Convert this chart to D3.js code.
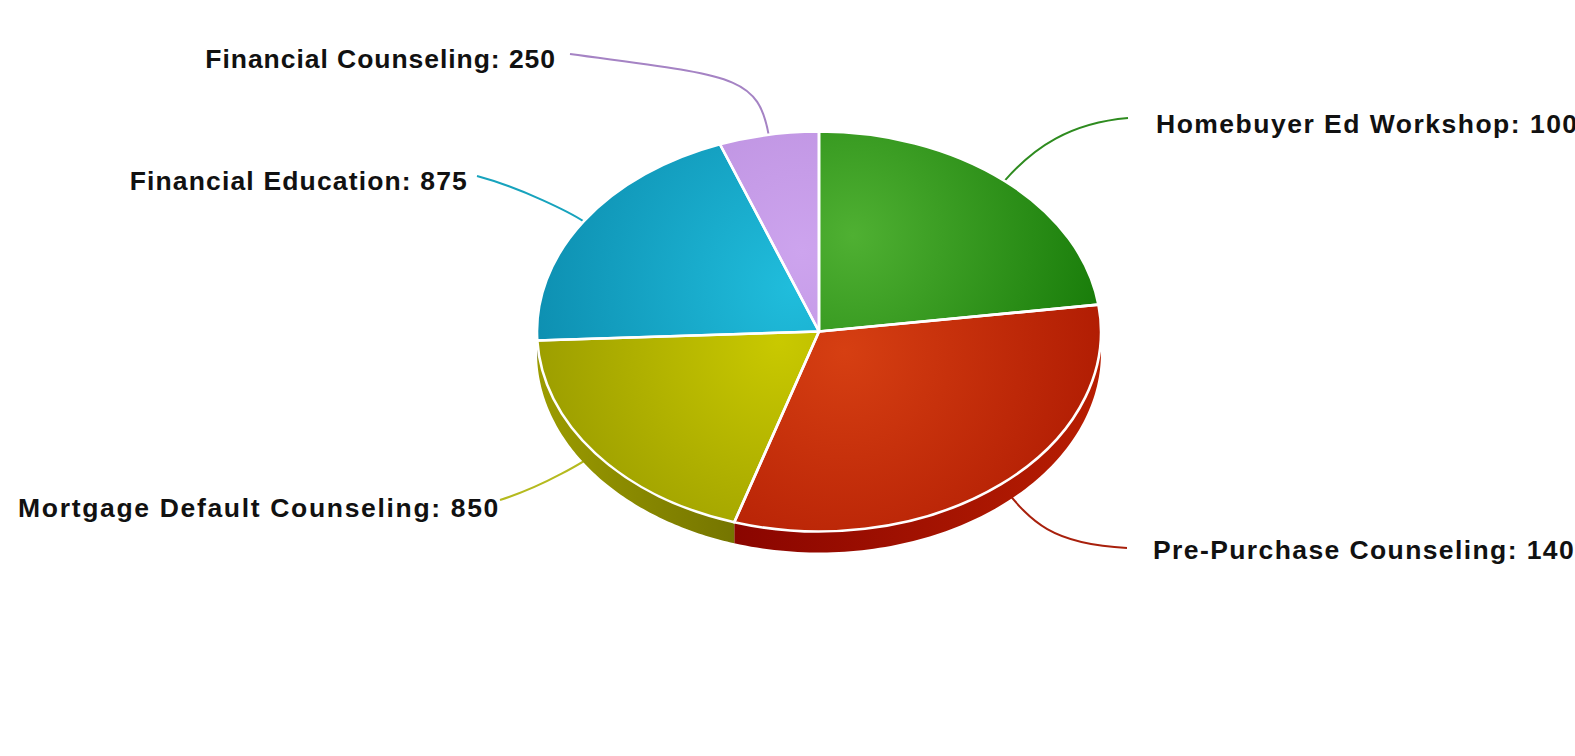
<!DOCTYPE html>
<html>
<head>
<meta charset="utf-8">
<script src="https://cdn.jsdelivr.net/npm/d3@7"></script>
<style>
  html, body { margin: 0; padding: 0; background: #fff; overflow: hidden; }
  svg { display: block; }
  text { font-family: "Liberation Sans", Arial, sans-serif; font-weight: 700; fill: #111; }
</style>
</head>
<body>
<svg id="chart" width="1575" height="756"></svg>
<script>
// Counseling activity by service type
const categories = ["Homebuyer Ed Workshop", "Pre-Purchase Counseling", "Mortgage Default Counseling", "Financial Education", "Financial Counseling"];
const values = [1000, 1400, 850, 875, 250];

// Per-slice palette: gradient highlight, gradient shadow, wall shades left to right along the rim
const lightColors = ["#4fb032", "#d63f12", "#c9c900", "#20bddc", "#cda4ee"];
const darkColors = ["#167a08", "#ae1a02", "#939500", "#0c8cae", "#b88cdc"];
const wallStart = [null, "#b81e02", "#757500", null, null];
const wallEnd = [null, "#8a0500", "#9c9c00", null, null];
// Gradient focus of each slice, as fractions of the pie radii from its centre
const glowFx = [0.12, 0.09, -0.14, -0.09, -0.06];
const glowFy = [-0.48, 0.10, 0.05, -0.22, -0.40];
const glowR = [0.95, 1.0, 1.05, 1.0, 0.85];

// Label placement: text anchor, leader end and how the leader bends
const labelX = [1156, 1153, 500, 468, 556];
const labelY = [133, 559, 517, 190, 68];
const labelAnchor = ["start", "start", "end", "end", "end"];
const labelSpacing = [1.49, 1.40, 1.67, 1.15, 0.95];
const leaderEndX = [1128, 1127, 500, 477, 570];
const leaderEndY = [118, 548, 500, 176, 54];
const leaderOut = [45, 45, 10, 15, 62];
const leaderIn = [58, 80, 45, 45, 160];
const leaderLift = [5, -4, -14, 12, 22];
const leaderColors = ["#2e8b1f", "#a8200c", "#b5ba1e", "#17a3bd", "#a583c4"];

const width = 1575, height = 756;
const cx = 819, cy = 331.5, rx = 282, ry = 200, depth = 21;

const svg = d3.select("#chart");
const defs = svg.append("defs");

const pie = d3.pie().sort(null).value(d => d)(values);
const arc = d3.arc().innerRadius(0).outerRadius(rx);

// Pie angles run clockwise from twelve o'clock and are squashed onto the ellipse
const rimX = a => cx + rx * Math.sin(a);
const rimY = a => cy - ry * Math.cos(a);

pie.forEach((p, i) => {
  const g = defs.append("radialGradient")
    .attr("id", "face" + i)
    .attr("gradientUnits", "userSpaceOnUse")
    .attr("cx", cx + glowFx[i] * rx)
    .attr("cy", cy + glowFy[i] * ry)
    .attr("r", glowR[i] * rx);
  g.append("stop").attr("offset", 0).attr("stop-color", lightColors[i]);
  g.append("stop").attr("offset", 1).attr("stop-color", darkColors[i]);
});

// Leaders run underneath the pie and come out of each slice's rim midpoint
const leaders = svg.append("g").attr("fill", "none").attr("stroke-width", 2);
pie.forEach((p, i) => {
  const mid = (p.startAngle + p.endAngle) / 2;
  const sx = rimX(mid), sy = rimY(mid);
  const ex = leaderEndX[i], ey = leaderEndY[i];
  const dir = ex > cx ? 1 : -1;
  const path = d3.path();
  path.moveTo(sx, sy);
  path.bezierCurveTo(
    sx + leaderOut[i] * Math.sin(mid), sy - leaderOut[i] * Math.cos(mid),
    ex - dir * leaderIn[i], ey + leaderLift[i],
    ex, ey);
  leaders.append("path").attr("d", path.toString()).attr("stroke", leaderColors[i]);
});

// Wall of the disc: only the part of each slice on the front half shows
const wall = svg.append("g");
const wallSamples = 90;
pie.forEach((p, i) => {
  const a0 = Math.max(p.startAngle, Math.PI / 2);
  const a1 = Math.min(p.endAngle, Math.PI * 1.5);
  if (a1 <= a0) return;
  const angles = d3.range(wallSamples + 1).map(k => a0 + (a1 - a0) * k / wallSamples);
  const outline = angles.map(a => [rimX(a), rimY(a)])
    .concat(angles.slice().reverse().map(a => [rimX(a), rimY(a) + depth]));
  const grad = defs.append("linearGradient")
    .attr("id", "wall" + i)
    .attr("gradientUnits", "userSpaceOnUse")
    .attr("x1", rimX(a0)).attr("x2", rimX(a1))
    .attr("y1", 0).attr("y2", 0);
  grad.append("stop").attr("offset", 0).attr("stop-color", wallStart[i]);
  grad.append("stop").attr("offset", 1).attr("stop-color", wallEnd[i]);
  wall.append("path")
    .attr("d", d3.line()(outline) + "Z")
    .attr("fill", `url(#wall${i})`);
});

// Top face: circular arcs flattened into the ellipse, gradients held in page space
const face = svg.append("g");
pie.forEach((p, i) => {
  const clipId = "slice" + i;
  defs.append("clipPath").attr("id", clipId).append("path")
    .attr("transform", `translate(${cx},${cy}) scale(1,${ry / rx})`)
    .attr("d", arc(p));
  face.append("rect")
    .attr("x", cx - rx - 2).attr("y", cy - ry - 2)
    .attr("width", 2 * rx + 4).attr("height", 2 * ry + 4)
    .attr("clip-path", `url(#${clipId})`)
    .attr("fill", `url(#face${i})`);
});
face.selectAll("path.edge").data(pie).join("path")
  .attr("class", "edge")
  .attr("transform", `translate(${cx},${cy}) scale(1,${ry / rx})`)
  .attr("d", arc)
  .attr("fill", "none")
  .attr("stroke", "#fff")
  .attr("stroke-width", 2.6)
  .attr("stroke-linejoin", "round")
  .attr("vector-effect", "non-scaling-stroke");

// Labels: name and value; the long right-hand ones run off the page edge
svg.append("g").selectAll("text").data(categories).join("text")
  .attr("x", (d, i) => labelX[i])
  .attr("y", (d, i) => labelY[i])
  .attr("text-anchor", (d, i) => labelAnchor[i])
  .attr("font-size", 26.5)
  .attr("letter-spacing", (d, i) => labelSpacing[i])
  .text((d, i) => `${d}: ${values[i]}`);
</script>
</body>
</html>
